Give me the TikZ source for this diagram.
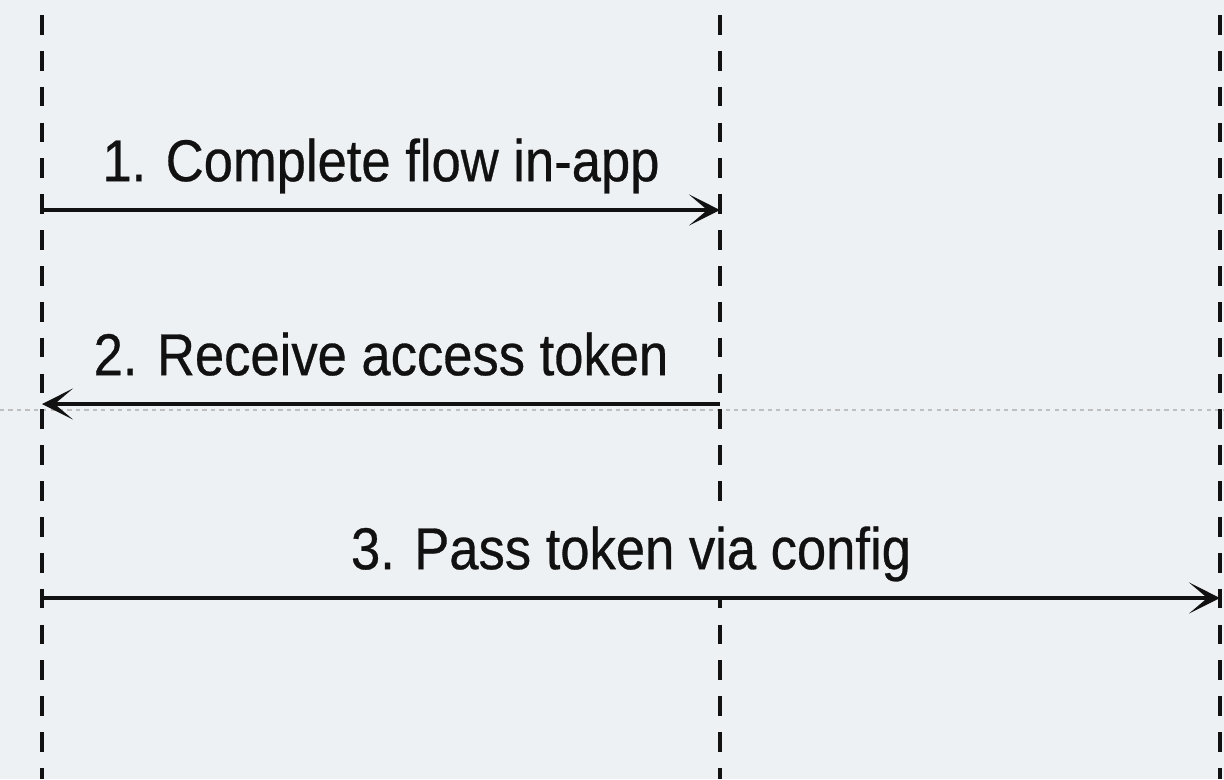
\documentclass[tikz,border=0pt]{standalone}
\usepackage{fontspec}
\setmainfont{Liberation Sans}[FakeStretch=0.89, FakeBold=0.5]
\usepackage{tikz}
\usetikzlibrary{arrows.meta}

\definecolor{bgpaper}{HTML}{EEF1F3}
\definecolor{inkblack}{HTML}{111111}

\tikzset{
    lifeline/.style={inkblack, line width=2.8pt, dash pattern=on 14pt off 11.5pt},
    msg/.style={inkblack, line width=2.4pt, -{Stealth[length=22pt, width=22pt, inset=13pt]}},
    msglabel/.style={anchor=base, yshift=0.72cm, fill=bgpaper, inner xsep=3pt, inner ysep=0.4cm,
        font=\fontsize{42}{46}\selectfont, text=inkblack},
}

\begin{document}
\begin{tikzpicture}[x=0.025cm, y=-0.025cm]
    % Background
    \fill[bgpaper] (0,0) rectangle (1224,779);
    \useasboundingbox (0,0) rectangle (1224,779);

    % Faint guide line
    \draw[gray!50, line width=0.8pt, dash pattern=on 3pt off 3pt] (0,410) -- (1224,410);

    % Lifelines
    \draw[lifeline] (42,15) -- (42,779);
    \draw[lifeline] (720,15) -- (720,779);
    \draw[lifeline] (1220,15) -- (1220,779);

    % Message points
    \coordinate (app1) at (42,210);
    \coordinate (auth1) at (720,210);
    \coordinate (app2) at (42,404);
    \coordinate (auth2) at (720,404);
    \coordinate (app3) at (42,598);
    \coordinate (cfg3) at (1220,598);

    % Labels (they hide the lifeline behind them)
    \path (app1) -- node[msglabel] (lbl1) {1. Complete flow in-app} (auth1);
    \path (app2) -- node[msglabel] (lbl2) {2. Receive access token} (auth2);
    \path (app3) -- node[msglabel] (lbl3) {3. Pass token via config} (cfg3);

    % Messages
    \draw[msg] (app1) -- (auth1);
    \draw[msg] (auth2) -- (app2);
    \draw[msg] (app3) -- (cfg3);
\end{tikzpicture}
\end{document}
